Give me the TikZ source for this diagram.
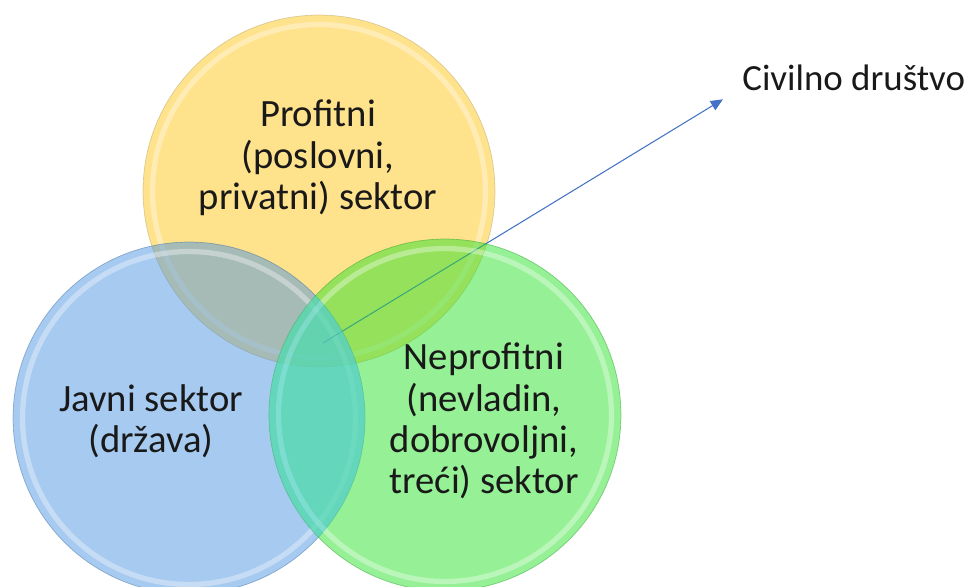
\documentclass[tikz,border=0pt]{standalone}
\usepackage{fontspec}
\setmainfont{Carlito}
\usetikzlibrary{arrows.meta}
\definecolor{profitfill}{RGB}{255,226,140}
\definecolor{javnifill}{RGB}{79,149,225}
\definecolor{neproffill}{RGB}{45,225,45}
\definecolor{overlapfill}{RGB}{95,215,235}
\definecolor{arrowblue}{RGB}{68,114,196}
\definecolor{txt}{RGB}{25,25,25}
\begin{document}
\begin{tikzpicture}[x=0.02cm, y=-0.02cm,
    sector/.style={circle, minimum size=7.04cm, inner sep=0pt,
      draw=#1!70!black, draw opacity=.45, line width=.4pt, fill=#1,
      path picture={\draw[white, opacity=.35, line width=3pt]
        (path picture bounding box.center) circle (3.33cm);}},
    sectortext/.style={align=center, text=txt,
      font=\fontsize{22}{23.5}\selectfont},
    label/.style={text=txt, font=\fontsize{21}{24}\selectfont,
      inner xsep=0.38cm, inner ysep=0.16cm}]
    \useasboundingbox (0, 0) rectangle (968, 587);
    \node[label, anchor=west] (civil) at (723, 78) {Civilno društvo};
    \coordinate (civstart) at (323, 343);
    \node[sector=profitfill] (profit) at (319, 191) {};
    \node[sector=javnifill, fill opacity=.5] (javni) at (189, 418) {};
    \draw[arrowblue, line width=.6pt, -{Triangle[length=7pt, width=6pt]}]
      (civstart) -- (civil.south west);
    \node[sector=neproffill, fill opacity=.5] (neprof) at (445, 415) {};
    % javni / neprofitni overlap is more teal
    \begin{scope}
      \clip (javni.center) circle (3.52cm);
      \fill[overlapfill, opacity=.5] (neprof.center) circle (3.52cm);
    \end{scope}
    \node[sectortext] (profittext) at (318, 158)
      {Profitni\\(poslovni,\\privatni) sektor};
    \node[sectortext] (javnitext) at (151, 421)
      {Javni sektor\\(država)};
    \node[sectortext] (neproftext) at (484, 421)
      {Neprofitni\\(nevladin,\\dobrovoljni,\\treći) sektor};
\end{tikzpicture}
\end{document}
